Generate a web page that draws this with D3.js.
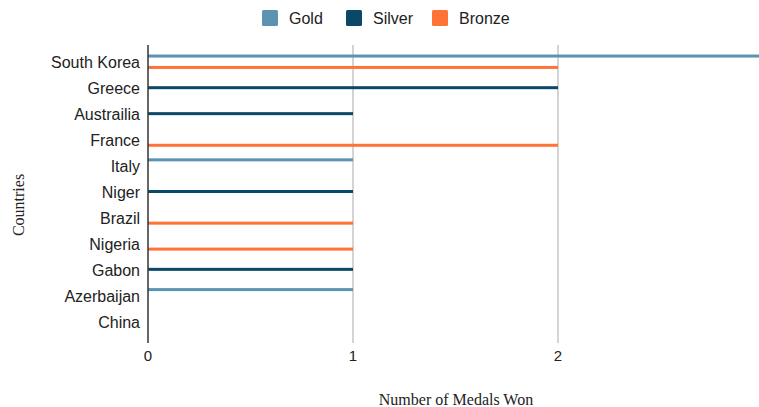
<!DOCTYPE html>
<html>
<head>
<meta charset="utf-8">
<script src="https://cdn.jsdelivr.net/npm/d3@7"></script>
<style>
body { margin: 0; background: #fff; }
svg { display: block; }
</style>
</head>
<body>
<div id="chart"></div>
<script>
// chart data
var countries = ["South Korea","Greece","Austrailia","France","Italy","Niger","Brazil","Nigeria","Gabon","Azerbaijan","China"];
var series = ["Gold","Silver","Bronze"];
var gold   = [3,0,0,0,1,0,0,0,0,1,0];
var silver = [0,2,1,0,0,1,0,0,1,0,0];
var bronze = [2,0,0,2,0,0,1,1,0,0,0];
var xTicks = [0,1,2];
var colors = ["#5b93b1","#0b4868","#ff7336"];

var width = 759, height = 407;
var plotLeft = 148, plotTop = 45, plotBottom = 338;

var svg = d3.select("#chart").append("svg")
    .attr("width",width)
    .attr("height",height);

var x = d3.scaleLinear().domain([0,3]).range([plotLeft,plotLeft + 615]);
var y = d3.scalePoint().domain(countries).range([plotTop,plotBottom]).padding(0.645);
var sub = d3.scalePoint().domain(series).range([-5.7,5.7]);

//Gridlines
svg.append("g")
    .selectAll("line")
    .data(xTicks.slice(1))
    .enter()
    .append("line")
    .attr("x1",d => x(d)).attr("x2",d => x(d))
    .attr("y1",plotTop).attr("y2",plotBottom + 5)
    .attr("stroke","#d4d4d4")
    .attr("stroke-width",2);

//Bars as thin lines
var rows = [];
countries.forEach(function(c,i) {
    [gold,silver,bronze].forEach(function(arr,j) {
        if (arr[i] > 0) rows.push({country:c, s:series[j], v:arr[i], color:colors[j]});
    });
});

svg.append("g")
    .selectAll("rect")
    .data(rows)
    .enter()
    .append("rect")
    .attr("x",x(0))
    .attr("y",d => y(d.country) + sub(d.s) - 1.5)
    .attr("width",d => x(d.v) - x(0))
    .attr("height",3)
    .attr("fill",d => d.color);

//Axis line
svg.append("line")
    .attr("x1",plotLeft).attr("x2",plotLeft)
    .attr("y1",plotTop).attr("y2",plotBottom + 5)
    .attr("stroke","#333")
    .attr("stroke-width",1.5);

//Y labels
svg.append("g")
    .selectAll("text")
    .data(countries)
    .enter()
    .append("text")
    .attr("x",plotLeft - 8)
    .attr("y",d => y(d) + 1)
    .attr("dy","0.35em")
    .attr("text-anchor","end")
    .style("font-family","Liberation Sans, Arial, sans-serif")
    .style("font-size","16px")
    .attr("fill","#222")
    .text(d => d);

//X tick labels
svg.append("g")
    .selectAll("text")
    .data(xTicks)
    .enter()
    .append("text")
    .attr("x",d => x(d))
    .attr("y",356)
    .attr("dy","0.35em")
    .attr("text-anchor","middle")
    .style("font-family","Liberation Sans, Arial, sans-serif")
    .style("font-size","15px")
    .attr("fill","#222")
    .text(d => d);

//Axis titles
svg.append("text")
    .attr("x",456)
    .attr("y",399)
    .attr("dy","0.35em")
    .attr("text-anchor","middle")
    .style("font-family","Liberation Serif, Times New Roman, serif")
    .style("font-size","16px")
    .attr("fill","#222")
    .text("Number of Medals Won");

svg.append("text")
    .attr("transform","translate(18,205) rotate(-90)")
    .attr("dy","0.35em")
    .attr("text-anchor","middle")
    .style("font-family","Liberation Serif, Times New Roman, serif")
    .style("font-size","16px")
    .attr("fill","#222")
    .text("Countries");

//Legend
var legendX = [262,346,432];
var legend = svg.append("g")
    .selectAll("g")
    .data(series)
    .enter()
    .append("g")
    .attr("transform",(d,i) => "translate(" + legendX[i] + ",18)");

legend.append("rect")
    .attr("x",0).attr("y",-8)
    .attr("width",16).attr("height",16)
    .attr("rx",1.5)
    .attr("fill",(d,i) => colors[i]);

legend.append("text")
    .attr("x",27)
    .attr("dy","0.35em")
    .style("font-family","Liberation Sans, Arial, sans-serif")
    .style("font-size","16px")
    .attr("fill","#222")
    .text(d => d);
</script>
</body>
</html>
